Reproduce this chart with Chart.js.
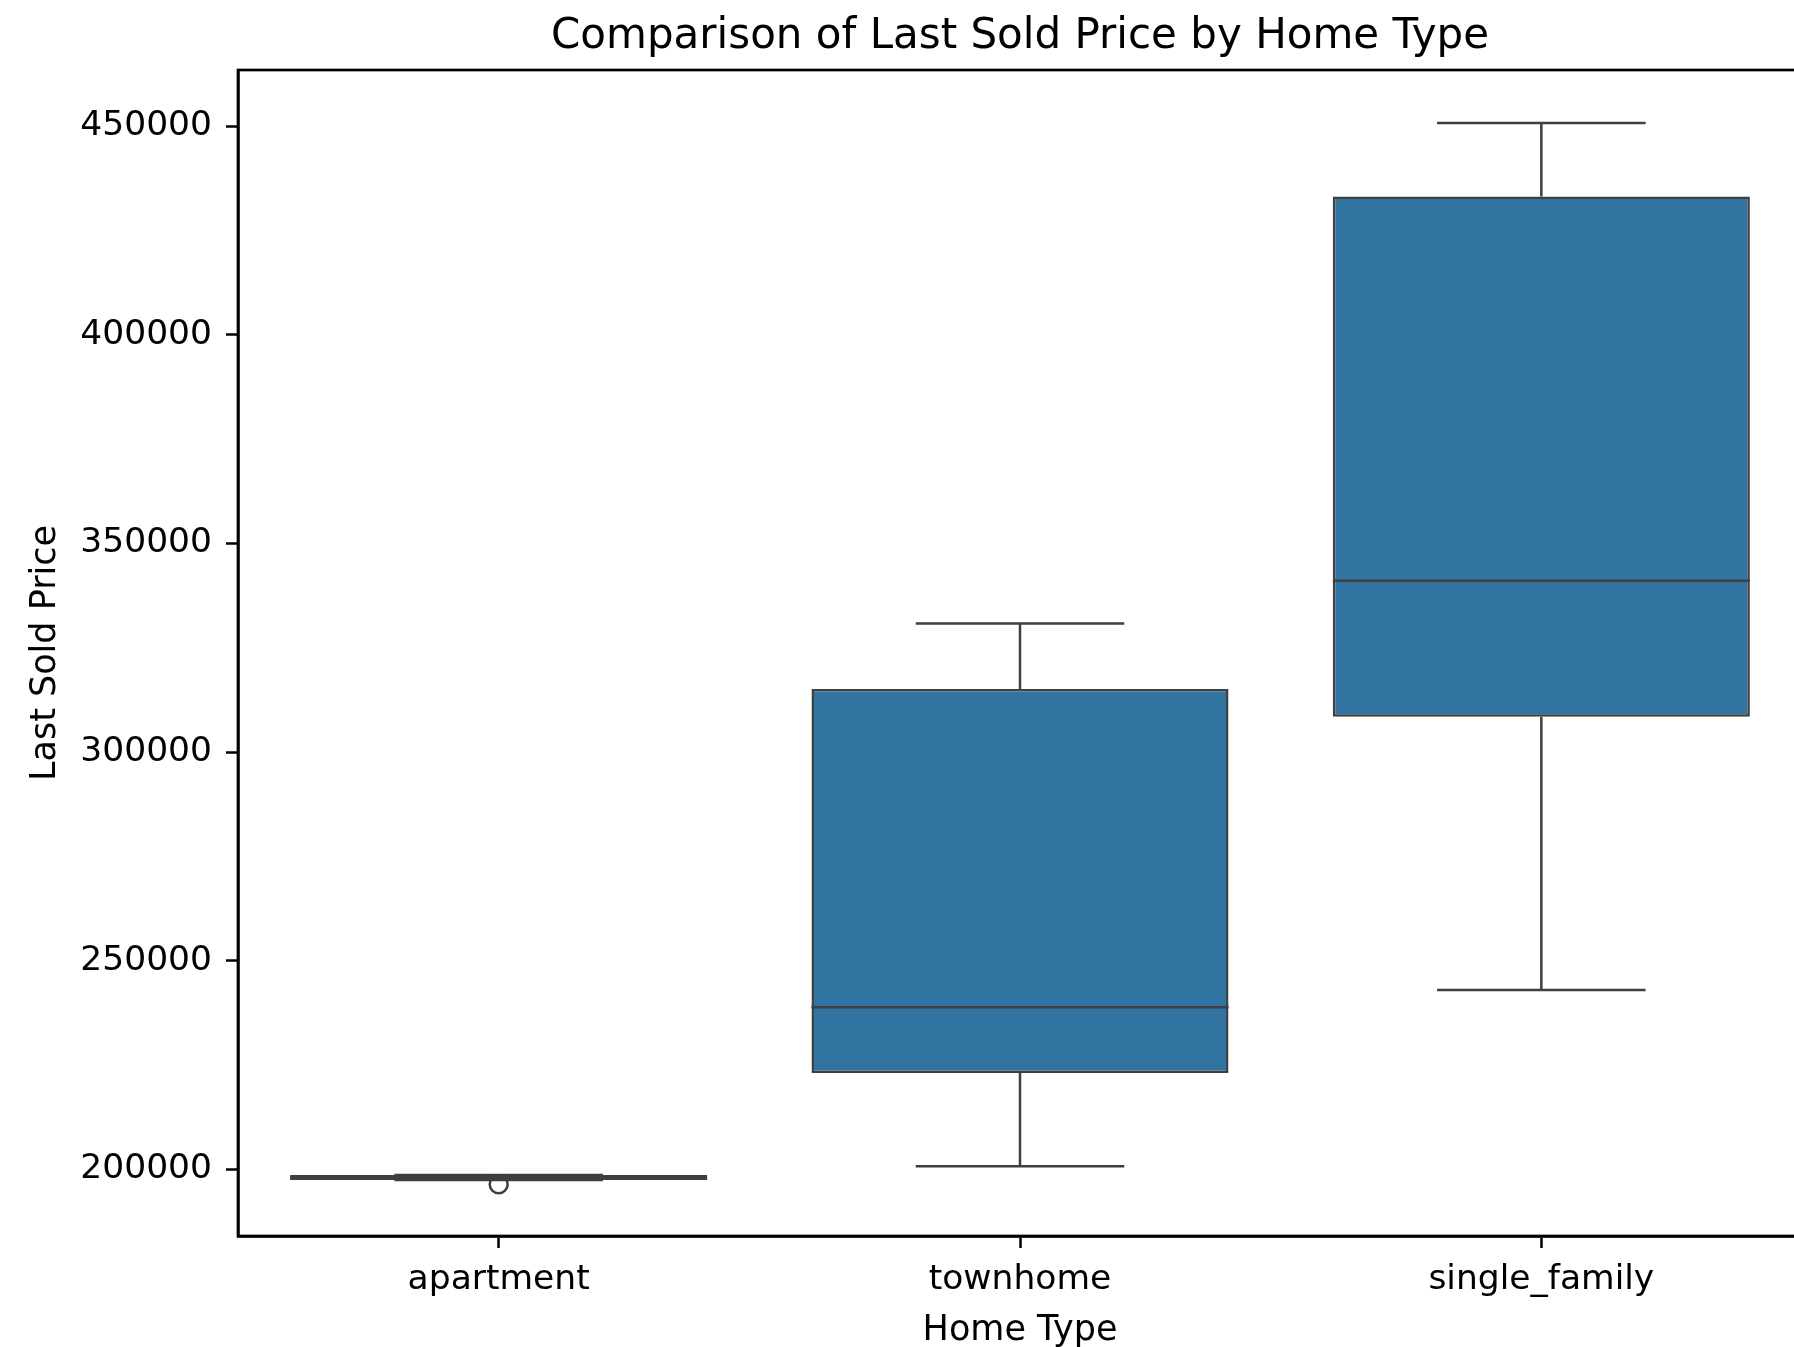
<!DOCTYPE html>
<html>
<head>
<meta charset="utf-8">
<title>Comparison of Last Sold Price by Home Type</title>
<script src="https://cdn.jsdelivr.net/npm/chart.js@4.4.1/dist/chart.umd.min.js"></script>
<style>
  html, body { margin: 0; padding: 0; background: #fff; overflow: hidden; }
  #wrap { position: relative; width: 1820px; height: 1347px; }
</style>
</head>
<body>
<div id="wrap"><canvas id="boxChart"></canvas></div>
<script>
// Datos (boxplot por tipo de vivienda)
const homeTypes = ['apartment', 'townhome', 'single_family'];
const whiskerLow = [197400, 200700, 242950];
const q1 = [197400, 223100, 308450];
const median = [198000, 238850, 341050];
const q3 = [198600, 315150, 433200];
const whiskerHigh = [198600, 330850, 450800];
const outliers = [[196400], [], []];
const yTicks = [200000, 250000, 300000, 350000, 400000, 450000];

const boxColor = '#3274a1';
const lineColor = '#3f3f3f';
const capHalf = 0.2;
const medHalf = 0.4;

Chart.defaults.font.family = 'DejaVu Sans';
Chart.defaults.color = '#000';

// cajas (Q1 - Q3)
const boxData = homeTypes.map((t, i) => ({ x: i, y: [q1[i], q3[i]] }));

// bigotes con sus topes
const whiskerData = [];
homeTypes.forEach((t, i) => {
  whiskerData.push({ x: i, y: q3[i] }, { x: i, y: whiskerHigh[i] }, { x: i, y: null });
  whiskerData.push({ x: i - capHalf, y: whiskerHigh[i] }, { x: i + capHalf, y: whiskerHigh[i] }, { x: i, y: null });
  whiskerData.push({ x: i, y: q1[i] }, { x: i, y: whiskerLow[i] }, { x: i, y: null });
  whiskerData.push({ x: i - capHalf, y: whiskerLow[i] }, { x: i + capHalf, y: whiskerLow[i] }, { x: i, y: null });
});

// medianas
const medianData = [];
homeTypes.forEach((t, i) => {
  medianData.push({ x: i - medHalf, y: median[i] }, { x: i + medHalf, y: median[i] }, { x: i, y: null });
});

// valores atípicos
const outlierData = [];
outliers.forEach((vals, i) => vals.forEach(v => outlierData.push({ x: i, y: v })));

// marco de los ejes (arriba y derecha)
const framePlugin = {
  id: 'frame',
  afterDraw(chart) {
    const { ctx, chartArea: a } = chart;
    ctx.save();
    ctx.strokeStyle = '#000';
    ctx.lineWidth = 2.7;
    ctx.strokeRect(a.left, a.top, a.right - a.left, a.bottom - a.top);
    ctx.restore();
  }
};

const ctx = document.getElementById('boxChart').getContext('2d');
const boxChart = new Chart(ctx, {
  type: 'bar',
  data: {
    datasets: [
      {
        type: 'scatter',
        label: 'outliers',
        data: outlierData,
        pointStyle: 'circle',
        pointRadius: 9,
        pointBorderWidth: 2.5,
        pointBackgroundColor: 'rgba(0,0,0,0)',
        pointBorderColor: lineColor,
        order: 0,
      },
      {
        type: 'line',
        label: 'median',
        data: medianData,
        borderColor: lineColor,
        borderWidth: 2.5,
        pointRadius: 0,
        spanGaps: false,
        fill: false,
        order: 1,
      },
      {
        type: 'line',
        label: 'whiskers',
        data: whiskerData,
        borderColor: lineColor,
        borderWidth: 2.5,
        pointRadius: 0,
        spanGaps: false,
        fill: false,
        order: 2,
      },
      {
        type: 'bar',
        label: 'box',
        data: boxData,
        backgroundColor: boxColor,
        borderColor: lineColor,
        borderWidth: 2.5,
        borderSkipped: false,
        categoryPercentage: 1,
        barPercentage: 0.8,
        order: 3,
      },
    ],
  },
  options: {
    responsive: true,
    maintainAspectRatio: false,
    devicePixelRatio: 1,
    animation: false,
    layout: { padding: { left: 0, right: 18, top: 0, bottom: 0 } },
    plugins: {
      legend: { display: false },
      tooltip: { enabled: false },
      title: {
        display: true,
        text: 'Comparison of Last Sold Price by Home Type',
        fullSize: false,
        font: { size: 42, weight: 'normal' },
        color: '#000',
        padding: { top: 12, bottom: 7.6 },
      },
    },
    scales: {
      x: {
        type: 'linear',
        min: -0.5,
        max: 2.5,
        offset: false,
        afterBuildTicks: (axis) => { axis.ticks = homeTypes.map((t, i) => ({ value: i })); },
        afterFit: (axis) => { axis.height = 111; },
        ticks: {
          callback: (v) => homeTypes[v],
          font: { size: 34.5 },
          color: '#000',
          padding: 11,
          maxRotation: 0,
          autoSkip: false,
        },
        grid: { offset: false, drawOnChartArea: false, drawTicks: true, tickLength: 12, tickWidth: 2.5, tickColor: '#000' },
        border: { display: true, color: '#000', width: 2.7 },
        title: { display: true, text: 'Home Type', font: { size: 35, lineHeight: 0.9 }, color: '#000', padding: { top: 0, bottom: 0 } },
      },
      y: {
        type: 'linear',
        min: 184000,
        max: 463500,
        afterBuildTicks: (axis) => { axis.ticks = yTicks.map(v => ({ value: v })); },
        afterFit: (axis) => { axis.width = 238; },
        ticks: {
          callback: (v) => String(v),
          font: { size: 34.5 },
          color: '#000',
          padding: 14,
        },
        grid: { drawOnChartArea: false, drawTicks: true, tickLength: 12, tickWidth: 2.5, tickColor: '#000' },
        border: { display: true, color: '#000', width: 2.7 },
        title: { display: true, text: 'Last Sold Price', font: { size: 35 }, color: '#000', padding: { top: 25, bottom: 0 } },
      },
    },
  },
  plugins: [framePlugin],
});
</script>
</body>
</html>
